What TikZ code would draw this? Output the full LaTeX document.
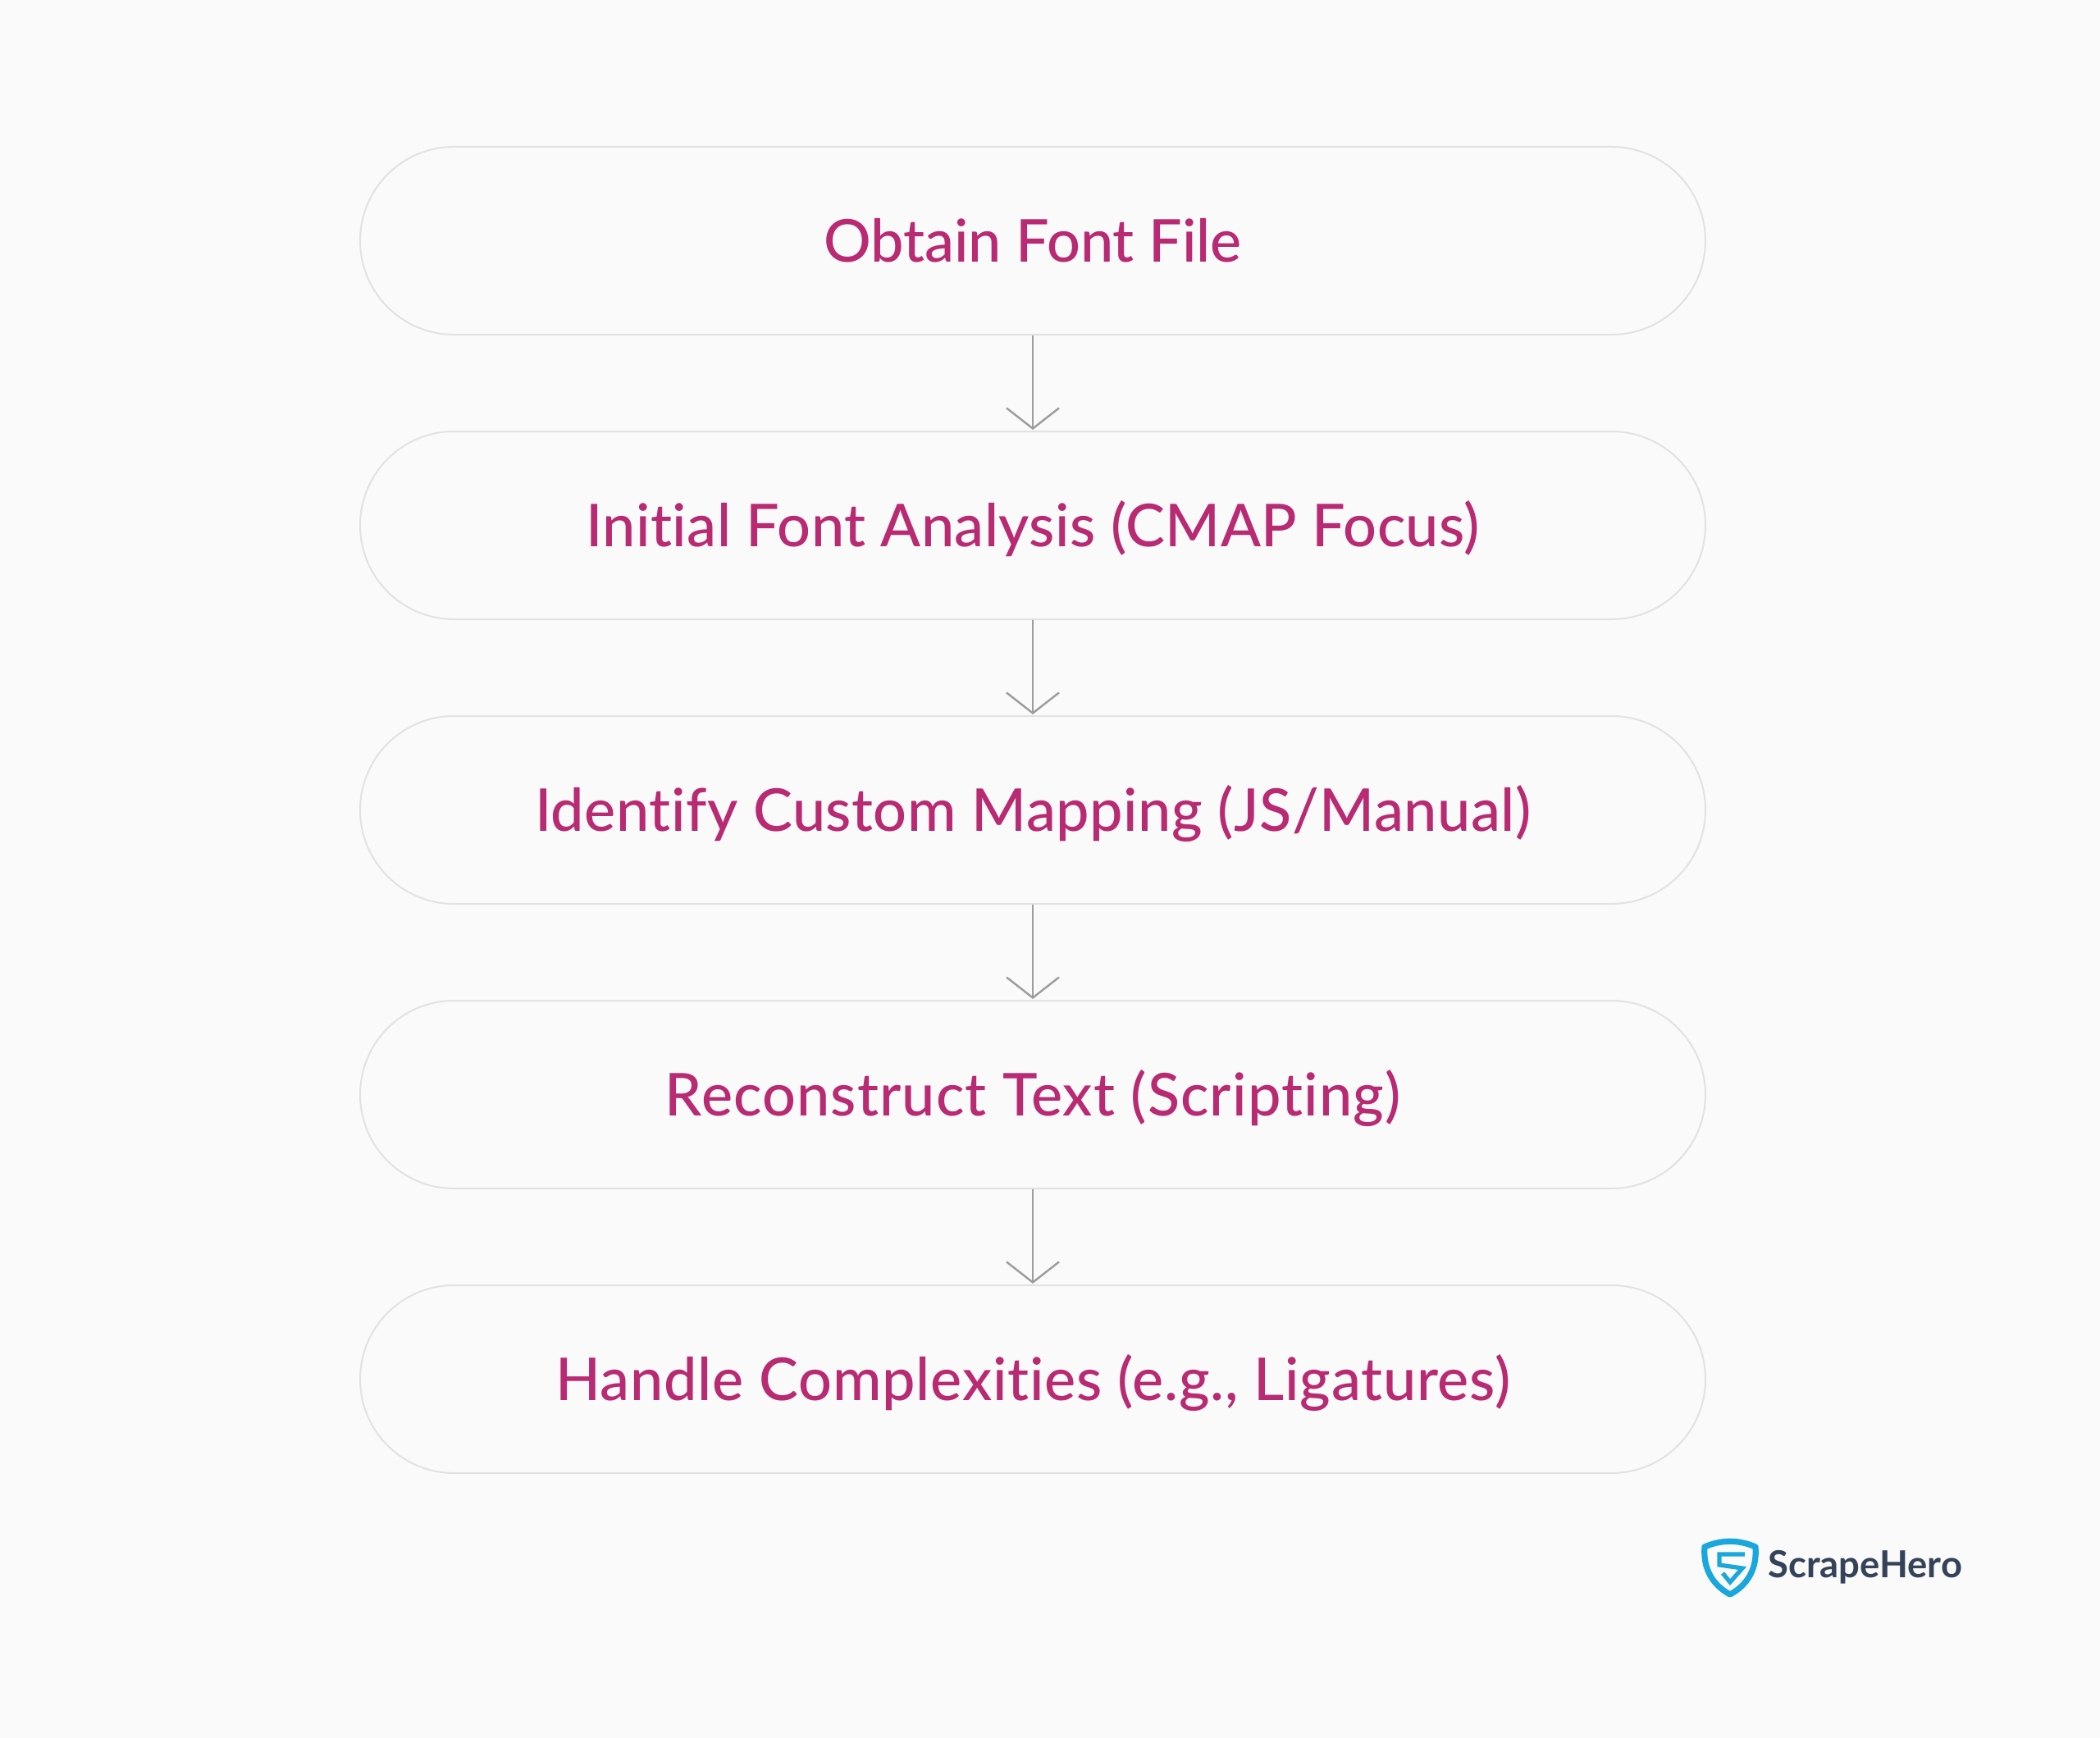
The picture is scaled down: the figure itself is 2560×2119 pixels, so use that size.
\documentclass[tikz,border=0pt]{standalone}
\usepackage{fontspec}
\setmainfont{Lato Medium}[Ligatures=NoCommon,BoldFont={Lato Bold}]
\usetikzlibrary{arrows.meta}
\definecolor{bgc}{HTML}{FAFAFA}
\definecolor{edgec}{HTML}{E2E2E2}
\definecolor{textc}{HTML}{B82B73}
\definecolor{linec}{HTML}{9C9C9C}
\definecolor{logob}{HTML}{1AA7DB}
\definecolor{logot}{HTML}{35435A}
\newcommand{\sptext}[2]{\addfontfeature{LetterSpace=#1}#2}
\tikzset{
  x=0.5pt,y=-0.5pt,
  pill/.style={draw=edgec,line width=1pt,fill=bgc,rounded corners=57.25pt,minimum width=820pt,minimum height=114.5pt,inner sep=0pt,text=textc,font=\fontsize{36}{36}\selectfont,text height=32.6pt,text depth=7pt},
  flow/.style={draw=linec,line width=1.2pt,shorten >=0.5pt,-{Straight Barb[length=12.5pt,width=32pt,line width=1.2pt]}},
  shield/.style={draw=logob,line width=3.6pt,line join=round}
}
\begin{document}
\begin{tikzpicture}
\useasboundingbox (0,0) rectangle (2560,2119);
\fill[bgc] (0,0) rectangle (2560,2119);
\node[pill] (a) at (1259,293.5) {\sptext{-0.28}{Obtain Font File}};
\node[pill] (b) at (1259,640.5) {\sptext{0.48}{Initial Font Analysis (CMAP Focus)}};
\node[pill] (c) at (1259,987.5) {\sptext{0.65}{Identify Custom Mapping (JS/Manual)}};
\node[pill] (d) at (1259,1334.5) {\sptext{1.54}{Reconstruct Text (Scripting)}};
\node[pill] (e) at (1259,1681.5) {\sptext{1.0}{Handle Complexities (e.g., Ligatures)}};
\draw[flow] (a.south) -- (b.north);
\draw[flow] (b.south) -- (c.north);
\draw[flow] (c.south) -- (d.north);
\draw[flow] (d.south) -- (e.north);
\draw[shield] (2078,1886) .. controls (2098,1877) and (2120,1877) .. (2140,1886)
  .. controls (2142,1912) and (2131,1932) .. (2109,1944)
  .. controls (2087,1932) and (2076,1912) .. (2078,1886) -- cycle;
\draw[shield,line width=2.6pt,line join=miter] (2127,1895) -- (2096,1895) -- (2096,1908) -- (2124,1912) -- (2109,1929) -- (2100,1918);
\node[anchor=west,inner sep=0pt,text=logot,font=\fontsize{22.7}{22.7}\selectfont\bfseries] (logo) at (2155,1911) {ScrapeHero};
\end{tikzpicture}
\end{document}
